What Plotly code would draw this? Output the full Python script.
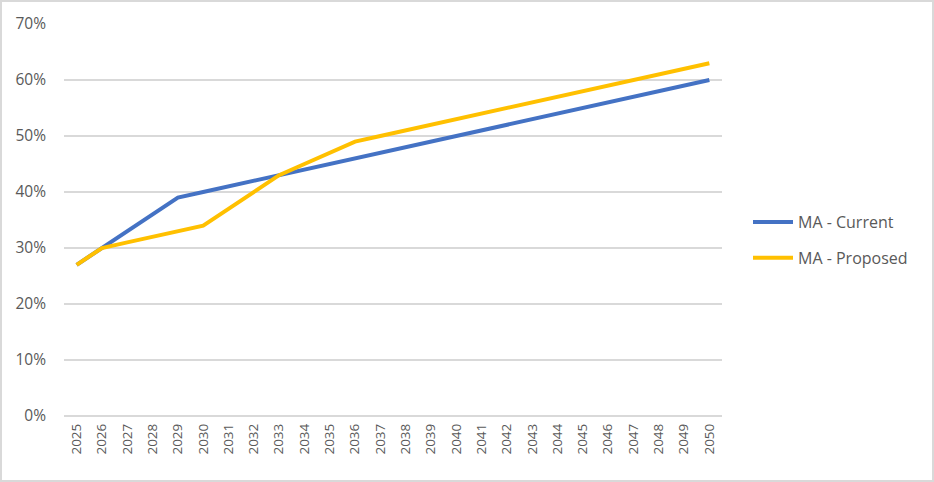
import plotly.graph_objects as go

# Data
years = [str(y) for y in range(2025, 2051)]
ma_current = [27, 30, 33, 36, 39, 40, 41, 42, 43, 44, 45, 46, 47, 48, 49,
              50, 51, 52, 53, 54, 55, 56, 57, 58, 59, 60]
ma_proposed = [27, 30, 31, 32, 33, 34, 37, 40, 43, 45, 47, 49, 50, 51, 52,
               53, 54, 55, 56, 57, 58, 59, 60, 61, 62, 63]
y_ticks = [0, 10, 20, 30, 40, 50, 60, 70]

W, H = 934, 482
L, R, T, B = 64, 212, 24, 66
pw, ph = W - L - R, H - T - B

fig = go.Figure()
fig.add_trace(go.Scatter(x=years, y=ma_current, mode="lines", name="MA - Current",
                         legendgroup="a",
                         line=dict(color="#4472C4", width=4)))
fig.add_trace(go.Scatter(x=years, y=ma_proposed, mode="lines", name="MA - Proposed",
                         legendgroup="b",
                         line=dict(color="#FFC000", width=4)))

# light grey frame around the whole chart
fig.add_shape(type="rect", xref="paper", yref="paper",
              x0=(-L + 1) / pw, x1=(pw + R - 1) / pw,
              y0=(-B + 1) / ph, y1=(ph + T - 1) / ph,
              line=dict(color="#D9D9D9", width=2), layer="below")

fig.update_layout(
    width=W, height=H,
    margin=dict(l=L, r=R, t=T, b=B, pad=0),
    plot_bgcolor="white", paper_bgcolor="white",
    font=dict(family="Open Sans, Liberation Sans, sans-serif", color="#595959", size=13),
    showlegend=True,
    legend=dict(x=(748 - L) / pw, y=(416 - 240) / ph, xanchor="left", yanchor="middle",
                font=dict(size=16, color="#595959"), tracegroupgap=12,
                itemwidth=40, bgcolor="rgba(0,0,0,0)"),
    xaxis=dict(type="category", tickangle=-90, showgrid=False, showline=False,
               ticks="", tickfont=dict(size=13.5), ticklabelstandoff=4,
               range=[-0.5, len(years) - 0.5]),
    yaxis=dict(range=[0, 70], tickvals=y_ticks, ticktext=[f"{v}%" for v in y_ticks],
               showgrid=True, gridcolor="#D9D9D9", gridwidth=1.5, zeroline=True,
               zerolinecolor="#D9D9D9", zerolinewidth=1.5, ticks="",
               ticklabelstandoff=17, tickfont=dict(size=15.5)),
)

# drop the default page margin so the chart sits at the window's corner
fig.write_html("out.html", config={"displayModeBar": False},
               post_script="document.body.style.margin='0';")
